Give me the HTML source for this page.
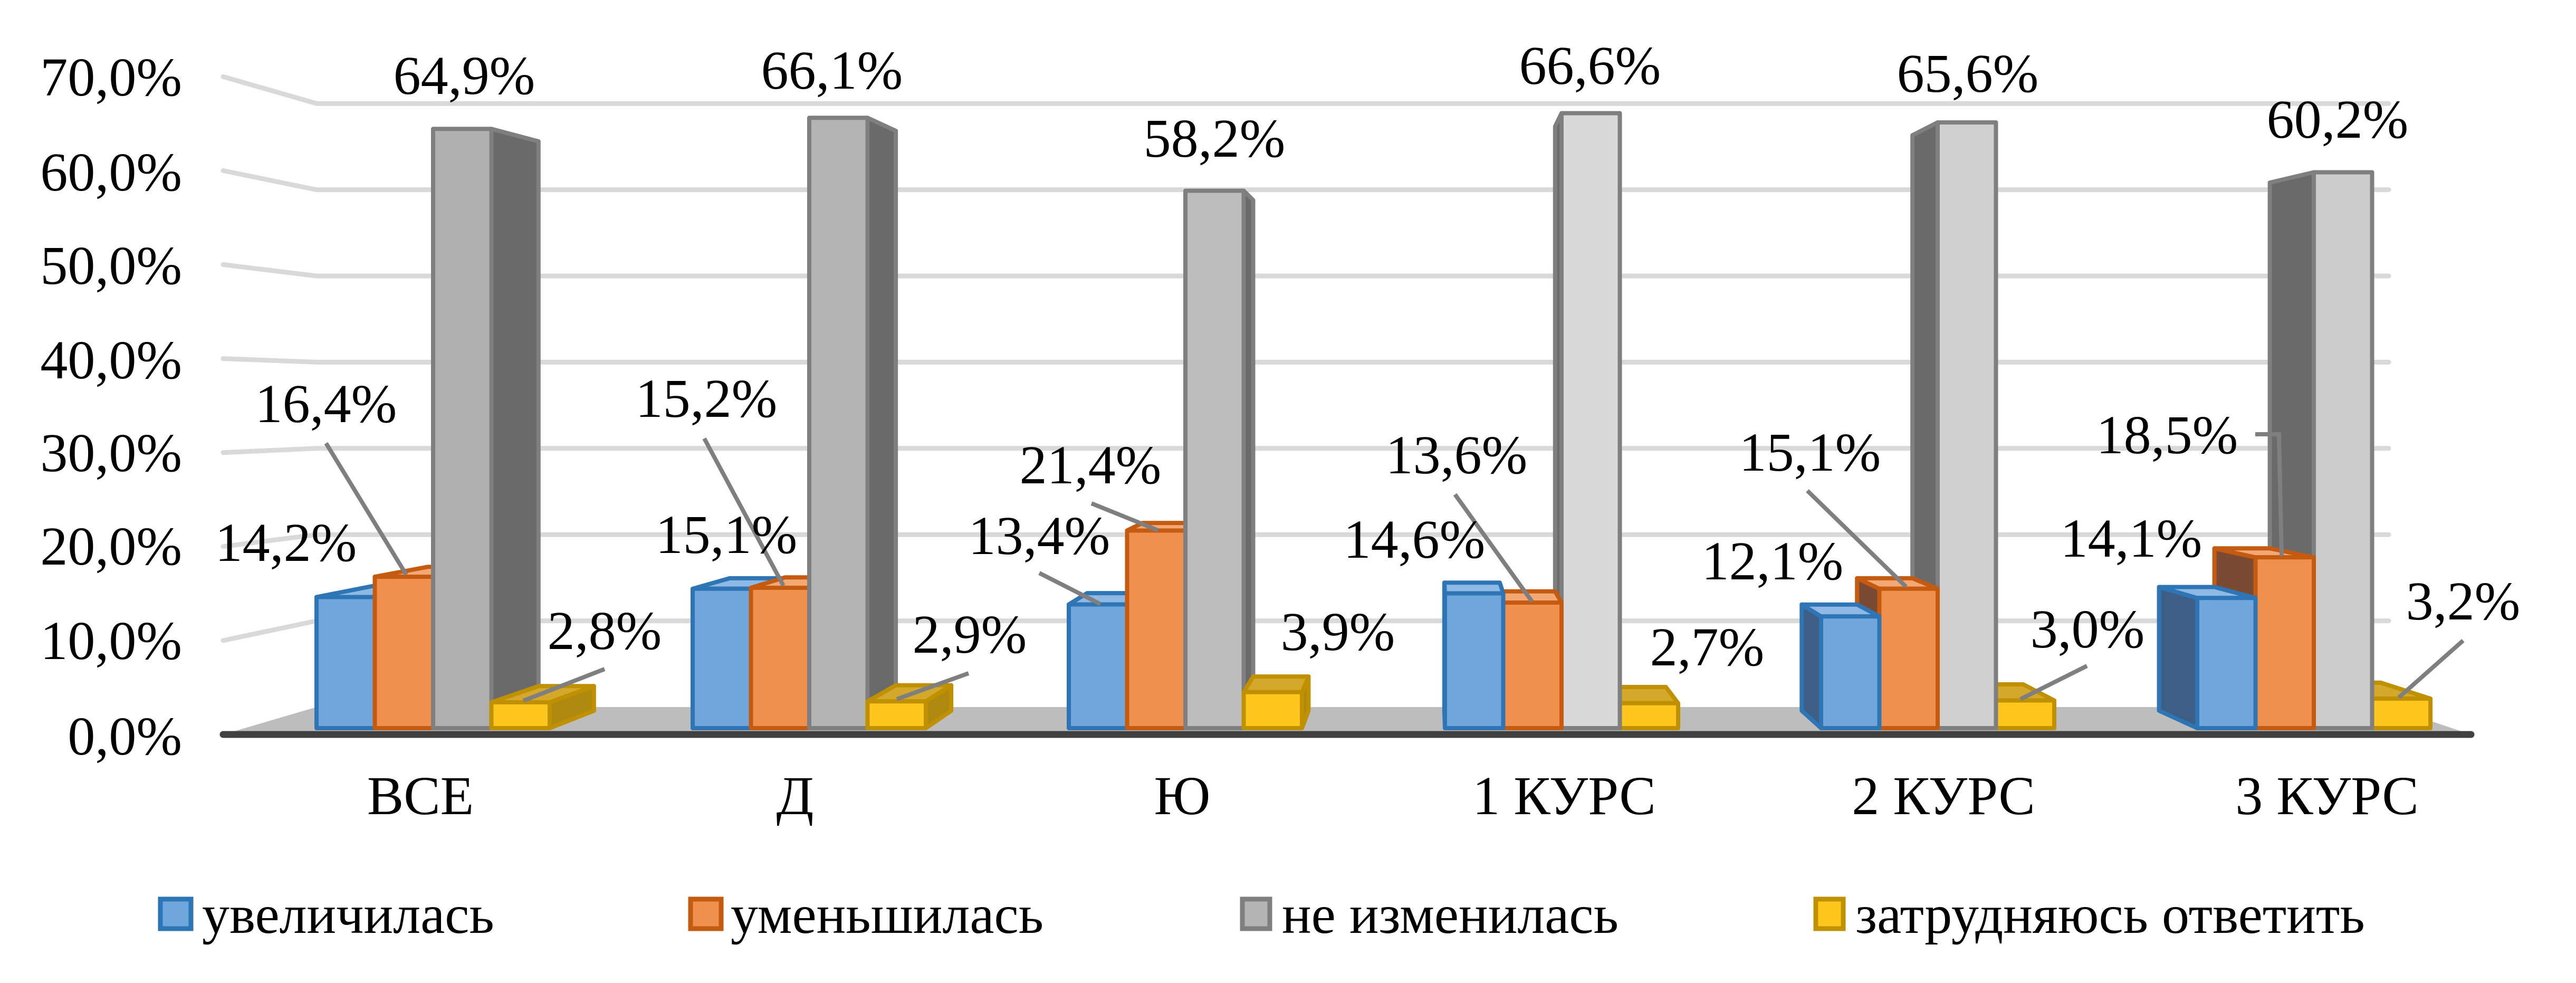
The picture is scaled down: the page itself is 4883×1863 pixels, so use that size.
<!DOCTYPE html>
<html><head><meta charset="utf-8">
<style>
html,body{margin:0;padding:0;background:#fff;}
svg{display:block;}
text{font-family:"Liberation Serif","Times New Roman","DejaVu Serif",serif;fill:#000;}
</style></head>
<body>
<svg id="s" width="4883" height="1863" viewBox="0 0 4883 1863" xmlns="http://www.w3.org/2000/svg" font-family="'Liberation Serif','Times New Roman','DejaVu Serif',serif">
<rect width="4883" height="1863" fill="#fff"/>
<g id="grid" stroke="#d9d9d9" stroke-width="9" fill="none" stroke-linecap="round"></g>
<polygon points="423,1392 4684,1392 4528,1340 600,1340" fill="#bdbdbd"/>
<g id="bars"></g>
<line x1="423" y1="1392" x2="4684" y2="1392" stroke="#404040" stroke-width="13" stroke-linecap="round"/>
<g font-size="104" text-anchor="end">
<text x="345" y="181">70,0%</text>
<text x="345" y="361">60,0%</text>
<text x="345" y="538">50,0%</text>
<text x="345" y="717">40,0%</text>
<text x="345" y="893">30,0%</text>
<text x="345" y="1070">20,0%</text>
<text x="345" y="1249">10,0%</text>
<text x="345" y="1430">0,0%</text>
</g>
<g stroke="#7f7f7f" stroke-width="8" fill="none">
<line x1="618" y1="840" x2="770" y2="1089"/>
<line x1="1146" y1="1268" x2="992" y2="1328"/>
<line x1="1335" y1="831" x2="1485" y2="1110"/>
<line x1="1836" y1="1276" x2="1700" y2="1325"/>
<line x1="2069" y1="954" x2="2195" y2="1005"/>
<line x1="1970" y1="1086" x2="2086" y2="1145"/>
<line x1="2758" y1="937" x2="2904" y2="1140"/>
<line x1="3426" y1="930" x2="3613" y2="1112"/>
<line x1="3956" y1="1262" x2="3830" y2="1325"/>
<polyline points="4275,823 4320,823 4325,1054"/>
<line x1="4669" y1="1214" x2="4547" y2="1322"/>
</g>
<g font-size="104" text-anchor="middle">
<text x="880" y="178">64,9%</text>
<text x="1577" y="168">66,1%</text>
<text x="2302" y="297">58,2%</text>
<text x="3014" y="159">66,6%</text>
<text x="3730" y="174">65,6%</text>
<text x="4431" y="261">60,2%</text>
<text x="618" y="800">16,4%</text>
<text x="1339" y="790">15,2%</text>
<text x="2067" y="916">21,4%</text>
<text x="2761" y="897">13,6%</text>
<text x="3431" y="892">15,1%</text>
<text x="4108" y="859">18,5%</text>
<text x="542" y="1063">14,2%</text>
<text x="1377" y="1048">15,1%</text>
<text x="1970" y="1050">13,4%</text>
<text x="2681" y="1057">14,6%</text>
<text x="3360" y="1098">12,1%</text>
<text x="4040" y="1055">14,1%</text>
<text x="1146" y="1230">2,8%</text>
<text x="1838" y="1237">2,9%</text>
<text x="2536" y="1232">3,9%</text>
<text x="3236" y="1261">2,7%</text>
<text x="3957" y="1227">3,0%</text>
<text x="4669" y="1174">3,2%</text>
<text x="797" y="1543">ВСЕ</text>
<text x="1507" y="1543">Д</text>
<text x="2241" y="1543">Ю</text>
<text x="2965" y="1543">1 КУРС</text>
<text x="3684" y="1543">2 КУРС</text>
<text x="4411" y="1543">3 КУРС</text>
</g>
<g>
<rect x="304" y="1704" width="58" height="56" fill="#6fa6db" stroke="#2e75b6" stroke-width="9"/>
<rect x="1309" y="1704" width="58" height="56" fill="#f0904f" stroke="#c55a11" stroke-width="9"/>
<rect x="2355" y="1704" width="52" height="56" fill="#b4b4b4" stroke="#7f7f7f" stroke-width="9"/>
<rect x="3442" y="1704" width="52" height="56" fill="#ffc61e" stroke="#bf9000" stroke-width="9"/>
</g>
<g font-size="104">
<text x="383" y="1768">увеличилась</text>
<text x="1385" y="1768">уменьшилась</text>
<text x="2430" y="1768">не изменилась</text>
<text x="3517" y="1768">затрудняюсь ответить</text>
</g>
</svg>
<script>
(function(){
var NS="http://www.w3.org/2000/svg";
var grid=document.getElementById('grid');
for(var v=10;v<=70;v+=10){
  var yl=1392-v*17.81, yb=1340-v*16.34;
  var p=document.createElementNS(NS,'polyline');
  p.setAttribute('points','423,'+yl+' 600,'+yb+' 4528,'+yb);
  grid.appendChild(p);
}
var data=[[14.2,16.4,64.9,2.8],[15.1,15.2,66.1,2.9],[13.4,21.4,58.2,3.9],[14.6,13.6,66.6,2.7],[12.1,15.1,65.6,3.0],[14.1,18.5,60.2,3.2]];
var grayF=['#b0b0b0','#b4b4b4','#bdbdbd','#d8d8d8','#d0d0d0','#cccccc'];
var VX=2717,VY=718,K=0.05,B=1380,S=17.5;
var g=document.getElementById('bars');
function poly(pts,fill,stroke){
  var p=document.createElementNS(NS,'polygon');
  p.setAttribute('points',pts.map(function(a){return a[0].toFixed(1)+','+a[1].toFixed(1);}).join(' '));
  p.setAttribute('fill',fill);p.setAttribute('stroke',stroke);
  p.setAttribute('stroke-width','8');p.setAttribute('stroke-linejoin','round');
  g.appendChild(p);
}
function bk(x,y){return [x+K*(VX-x),y+K*(VY-y)];}
for(var i=0;i<6;i++){
  var x0=600+713*i;
  var cols=[['#6fa6db','#3d5f85','#8db9e4','#2e75b6'],['#f0904f','#7b4a32','#f4a874','#c55a11'],[grayF[i],'#6a6a6a','#c8c8c8','#7f7f7f'],['#ffc61e','#b08a10','#d4a82a','#bf9000']];
  var order=[0,1,2,3];
  if(x0+220>VX) order=[3,2,1,0];
  order.forEach(function(j){
    var x1=x0+j*110.5, x2=x1+110.5, yt=B-data[i][j]*S;
    var c=cols[j];
    if(x2<VX){ poly([[x2,yt],bk(x2,yt),bk(x2,B),[x2,B]],c[1],c[3]); }
    if(x1>VX){ poly([[x1,yt],bk(x1,yt),bk(x1,B),[x1,B]],c[1],c[3]); }
    if(yt>VY){ poly([[x1,yt],[x2,yt],bk(x2,yt),bk(x1,yt)],c[2],c[3]); }
    poly([[x1,yt],[x2,yt],[x2,B],[x1,B]],c[0],c[3]);
  });
}
})();
</script>
</body></html>
